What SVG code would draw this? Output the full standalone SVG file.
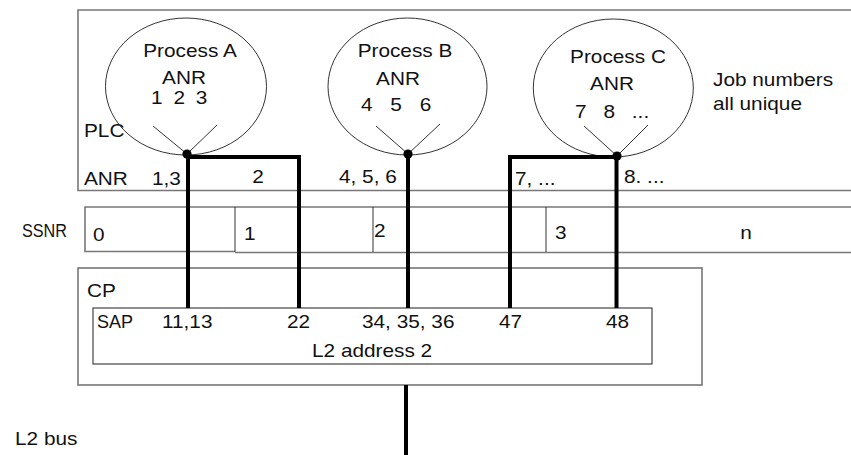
<svg xmlns="http://www.w3.org/2000/svg" width="851" height="455" viewBox="0 0 851 455">
  <style>
    .frame { fill: none; stroke: #777; stroke-width: 1.6; }
    .inner { fill: none; stroke: #444; stroke-width: 1.2; }
    .sep { stroke: #333; stroke-width: 1; }
    .proc { fill: none; stroke: #333; stroke-width: 1; }
    .tick { stroke: #333; stroke-width: 1; }
    .wire { fill: none; stroke: #000; stroke-width: 4; stroke-linejoin: miter; }
    .dot { fill: #000; }
    text { font-family: "Liberation Sans", Arial, sans-serif; font-size: 18px; fill: #111; }
    .mid { text-anchor: middle; }
  </style>
  <rect width="851" height="455" fill="#fff"/>

  <!-- PLC frame (open to the right) -->
  <g id="plc">
    <path class="frame" d="M 860 10 H 78 V 190.5 H 860"/>
    <text transform="translate(84 137) scale(1.155 1)">PLC</text>
    <text transform="translate(84 185) scale(1.155 1)">ANR</text>
    <text transform="translate(152 185) scale(1.155 1)">1,3</text>
    <text transform="translate(258 183) scale(1.155 1)" class="mid">2</text>
    <text transform="translate(339 183) scale(1.155 1)">4, 5, 6</text>
    <text transform="translate(515 185) scale(1.155 1)">7, ...</text>
    <text transform="translate(624 183) scale(1.155 1)">8. ...</text>
    <text transform="translate(713 86) scale(1.155 1)">Job numbers</text>
    <text transform="translate(713 110) scale(1.155 1)">all unique</text>
  </g>

  <!-- Processes -->
  <g id="process-a">
    <ellipse class="proc" cx="186" cy="86.5" rx="80.5" ry="68.5"/>
    <text transform="translate(190 57) scale(1.155 1)" class="mid">Process A</text>
    <text transform="translate(184 84) scale(1.155 1)" class="mid">ANR</text>
    <text transform="translate(151 104) scale(1.155 1)" style="word-spacing:4.4px">1 2 3</text>
    <line class="tick" x1="153" y1="126" x2="187" y2="154"/>
    <line class="tick" x1="217" y1="125" x2="187" y2="154"/>
  </g>
  <g id="process-b">
    <ellipse class="proc" cx="407.5" cy="86.5" rx="79.5" ry="68.5"/>
    <text transform="translate(405 57) scale(1.155 1)" class="mid">Process B</text>
    <text transform="translate(398 85) scale(1.155 1)" class="mid">ANR</text>
    <text transform="translate(361 111) scale(1.155 1)" style="word-spacing:10.4px">4 5 6</text>
    <line class="tick" x1="376" y1="126" x2="408" y2="154"/>
    <line class="tick" x1="440" y1="124" x2="408" y2="154"/>
  </g>
  <g id="process-c">
    <ellipse class="proc" cx="613.3" cy="88" rx="80" ry="69"/>
    <text transform="translate(618 63) scale(1.155 1)" class="mid">Process C</text>
    <text transform="translate(612 90) scale(1.155 1)" class="mid">ANR</text>
    <text transform="translate(575 118) scale(1.155 1)" style="word-spacing:9.6px">7 8 ...</text>
    <line class="tick" x1="584" y1="126" x2="617" y2="156"/>
    <line class="tick" x1="648" y1="125" x2="617" y2="156"/>
  </g>

  <!-- SSNR strip -->
  <g id="ssnr">
    <text x="22" y="237" textLength="45" lengthAdjust="spacingAndGlyphs">SSNR</text>
    <path class="frame" d="M 860 207 H 85 V 251.5 H 235"/>
    <line class="frame" x1="235" y1="252.5" x2="860" y2="252.5"/>
    <line class="sep" x1="235" y1="207" x2="235" y2="252"/>
    <line class="sep" x1="373" y1="207" x2="373" y2="252"/>
    <line class="sep" x1="546" y1="207" x2="546" y2="252"/>
    <text transform="translate(93 241) scale(1.155 1)">0</text>
    <text transform="translate(244 240) scale(1.155 1)">1</text>
    <text transform="translate(374 237) scale(1.155 1)">2</text>
    <text transform="translate(555 239) scale(1.155 1)">3</text>
    <text transform="translate(746 239) scale(1.155 1)" class="mid">n</text>
  </g>

  <!-- Communication processor -->
  <g id="cp">
    <rect class="frame" x="78" y="268" width="624" height="117"/>
    <text transform="translate(87 297) scale(1.155 1)">CP</text>
  </g>
  <g id="sap">
    <rect class="inner" x="93" y="308" width="559" height="56"/>
    <text x="97" y="328" textLength="36" lengthAdjust="spacingAndGlyphs">SAP</text>
    <text transform="translate(162 328) scale(1.155 1)">11,13</text>
    <text transform="translate(287 328) scale(1.155 1)">22</text>
    <text transform="translate(362 328) scale(1.155 1)">34, 35, 36</text>
    <text transform="translate(499 328) scale(1.155 1)">47</text>
    <text transform="translate(606 328) scale(1.155 1)">48</text>
    <text transform="translate(312 357) scale(1.155 1)">L2 address 2</text>
  </g>

  <g id="l2-bus">
    <text transform="translate(15 445) scale(1.155 1)">L2 bus</text>
  </g>

  <!-- Connections from job numbers to service access points -->
  <g id="connectors">
    <path class="wire" d="M 188 154 V 308"/>
    <path class="wire" d="M 188 157 H 299 V 308"/>
    <path class="wire" d="M 408 154 V 308"/>
    <path class="wire" d="M 616.5 156 V 308"/>
    <path class="wire" d="M 616.5 157 H 510 V 308"/>
    <path class="wire" d="M 406 385 V 455"/>
    <circle class="dot" cx="187" cy="154" r="4.6"/>
    <circle class="dot" cx="408" cy="154" r="4.6"/>
    <circle class="dot" cx="617" cy="156" r="4.6"/>
  </g>
</svg>
